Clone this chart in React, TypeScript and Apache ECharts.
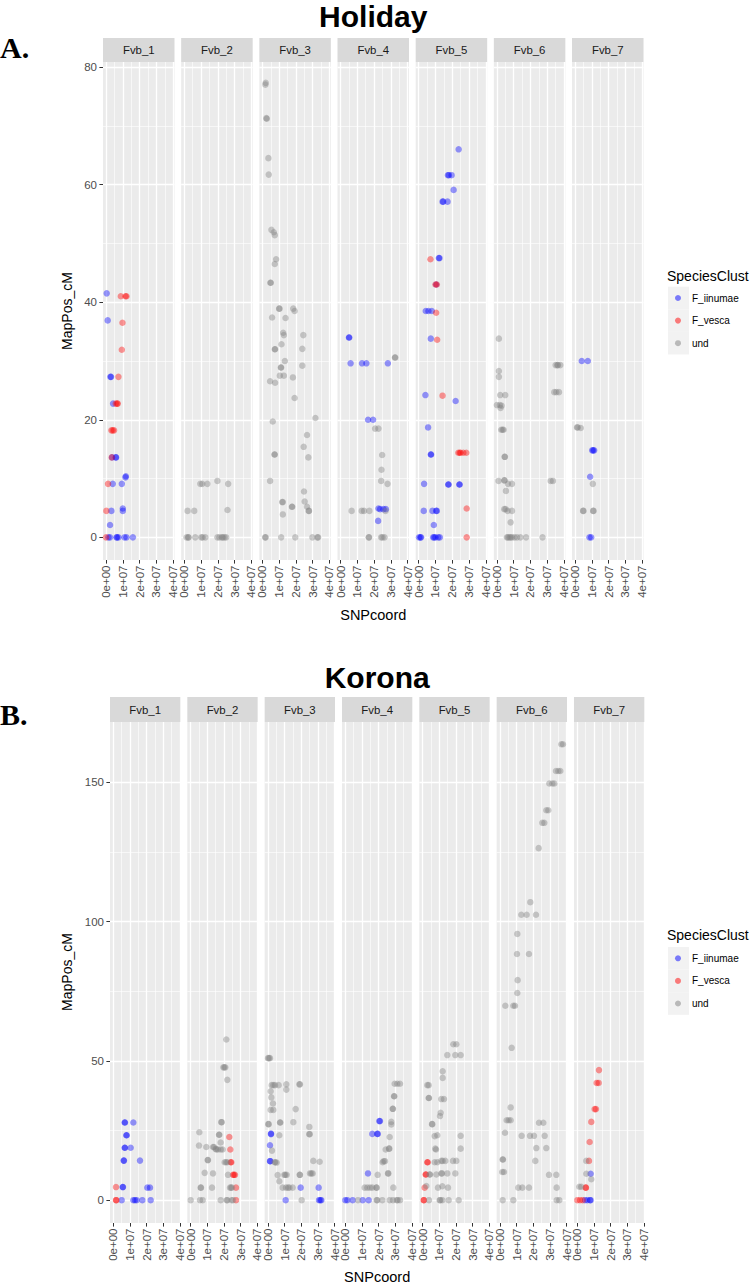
import React, { useEffect, useRef } from 'react';
import * as echarts from 'echarts';

type Sp = 'F_iinumae' | 'F_vesca' | 'und';
const FI: Sp = 'F_iinumae';
const FV: Sp = 'F_vesca';
const UND: Sp = 'und';
// [SNPcoord in Mb, MapPos_cM, SpeciesClust]
type Pt = [number, number, Sp];

const facetNames = ['Fvb_1', 'Fvb_2', 'Fvb_3', 'Fvb_4', 'Fvb_5', 'Fvb_6', 'Fvb_7'];
const speciesLevels: Sp[] = [FI, FV, UND];
const speciesColors = ['rgba(0,0,255,0.5)', 'rgba(255,0,0,0.5)', 'rgba(127,127,127,0.5)'];

// x axis in Mb (SNPcoord / 1e6)
const xTickValues = [0, 10, 20, 30, 40];
const xTickLabels = ['0e+00', '1e+07', '2e+07', '3e+07', '4e+07'];
const xMinorValues = [5, 15, 25, 35];
const holidayYTicks = [0, 20, 40, 60, 80];
const holidayYMinor = [10, 30, 50, 70];
const koronaYTicks = [0, 50, 100, 150];
const koronaYMinor = [25, 75, 125];

// ---------------- Holiday ----------------
const holidayFvb1: Pt[] = [
  [0.4, 41.5, FI], [8.8, 41.0, FV], [11.6, 41.0, FV], [12.2, 41.0, FV],
  [1.0, 36.9, FI], [9.8, 36.5, FV], [9.4, 31.9, FV],
  [2.6, 27.3, FI], [3.0, 27.3, FI], [7.4, 27.3, FV],
  [4.2, 22.75, FI], [5.8, 22.75, FV], [6.6, 22.75, FV], [7.0, 22.75, FV],
  [3.2, 18.2, FV], [4.0, 18.2, FV], [4.8, 18.2, FV],
  [3.4, 13.6, FV], [3.6, 13.6, FI], [5.8, 13.6, FI], [6.0, 13.6, FI],
  [11.6, 10.2, FI], [11.8, 10.4, FI],
  [1.2, 9.1, FV], [4.0, 9.1, FI], [9.4, 9.1, FI],
  [0.2, 4.5, FV], [3.2, 4.5, FI], [10.0, 4.9, FI], [10.0, 4.5, FI],
  [2.4, 2.1, FI],
  [0.0, 0, FV], [1.4, 0, FI], [2.4, 0, FI], [6.2, 0, FI], [6.6, 0, FI], [7.4, 0, FI],
  [11.0, 0, FI], [12.2, 0, FI], [16.0, 0, FI],
];
const holidayFvb2: Pt[] = [
  [1.4, 0, UND], [2.4, 0, UND], [2.6, 0, UND], [6.6, 0, UND], [10.2, 0, UND], [11.0, 0, UND],
  [12.6, 0, UND], [19.8, 0, UND], [21.0, 0, UND], [22.5, 0, UND], [23.0, 0, UND], [24.0, 0, UND], [25.0, 0, UND],
  [2.0, 4.5, UND], [6.0, 4.5, UND], [25.8, 4.65, UND],
  [9.6, 9.1, UND], [10.8, 9.1, UND], [13.8, 9.1, UND], [19.8, 9.6, UND], [26.2, 9.1, UND],
];
const holidayFvb3: Pt[] = [
  [1.8, 77.0, UND], [2.0, 77.3, UND], [2.4, 71.3, UND], [2.6, 71.2, UND],
  [3.6, 64.5, UND], [3.8, 61.7, UND],
  [5.4, 52.3, UND], [6.8, 51.9, UND], [7.4, 51.4, UND],
  [8.2, 47.3, UND], [7.4, 46.5, UND], [4.8, 43.3, UND], [5.0, 43.3, UND],
  [10.0, 38.9, UND], [10.2, 38.9, UND], [5.8, 37.4, UND], [13.8, 37.3, UND], [18.4, 38.9, UND], [19.2, 38.5, UND],
  [12.4, 34.8, UND], [12.8, 34.4, UND], [24.4, 34.4, UND],
  [7.4, 32.0, UND], [7.6, 32.0, UND], [11.4, 32.85, UND], [23.8, 32.06, UND],
  [13.4, 30.0, UND],
  [11.0, 28.9, UND], [11.2, 28.9, UND], [10.4, 27.5, UND], [12.8, 27.5, UND], [23.8, 29.2, UND], [18.2, 27.2, UND],
  [4.6, 26.55, UND], [7.6, 26.3, UND], [19.2, 23.7, UND],
  [6.2, 19.7, UND], [31.6, 20.3, UND],
  [26.6, 17.4, UND], [24.6, 15.4, UND], [27.4, 13.6, UND],
  [7.2, 14.1, UND], [7.4, 14.1, UND], [4.6, 9.6, UND], [24.8, 7.8, UND],
  [11.8, 6.0, UND], [12.2, 6.0, UND],
  [25.2, 6.1, UND], [26.6, 5.2, UND], [27.6, 4.5, UND], [27.8, 4.5, UND],
  [17.6, 5.2, UND], [17.8, 5.2, UND], [12.2, 3.9, UND],
  [1.6, 0, UND], [2.0, 0, UND], [11.2, 0, UND], [19.6, 0, UND], [29.8, 0, UND], [32.8, 0, UND], [33.2, 0, UND],
];
const holidayFvb4: Pt[] = [
  [5.0, 34.0, FI], [5.2, 34.0, FI],
  [6.0, 29.6, FI], [12.8, 29.6, FI], [15.4, 29.6, FI],
  [16.4, 20.0, FI], [19.4, 20.0, FI],
  [20.6, 18.5, UND], [22.6, 18.5, UND],
  [28.2, 29.6, FI], [32.4, 30.6, UND], [32.6, 30.6, UND],
  [24.8, 14.0, UND], [24.4, 11.5, UND], [24.2, 9.6, UND], [28.0, 9.1, UND],
  [6.6, 4.5, UND], [12.6, 4.5, UND], [14.0, 4.5, UND], [17.2, 4.5, UND],
  [22.6, 4.9, FI], [23.6, 4.8, FI], [25.6, 4.8, FI], [27.0, 4.8, FI], [26.8, 4.5, UND],
  [22.4, 2.8, FI],
  [16.8, 0, UND], [17.0, 0, UND], [24.2, 0, UND], [25.0, 0, UND], [26.2, 0, UND],
];
const holidayFvb5: Pt[] = [
  [23.8, 66.0, FI],
  [17.4, 61.6, FI], [18.0, 61.6, FI], [19.6, 61.6, FI],
  [20.8, 59.1, FI],
  [14.2, 57.1, FI], [14.6, 57.1, FI], [17.2, 57.1, FI],
  [7.0, 47.3, FV], [12.0, 47.5, FI], [12.4, 47.5, FI],
  [10.0, 43.0, FV], [10.4, 43.0, FI], [10.8, 43.0, FV],
  [4.2, 38.5, FI], [5.8, 38.5, FI], [7.8, 38.5, FI], [10.4, 38.2, FV],
  [7.2, 33.8, FI], [11.0, 33.6, FV],
  [4.0, 24.2, FI], [14.2, 24.1, FV], [22.0, 23.2, FI],
  [5.6, 18.7, FI],
  [7.2, 14.1, FI], [7.4, 14.1, FI],
  [23.6, 14.4, FV], [24.4, 14.4, FV], [25.0, 14.4, FV], [26.6, 14.4, FV], [28.4, 14.4, FV],
  [3.2, 9.1, FI], [17.6, 9.0, FI], [17.8, 9.0, FI], [24.2, 9.0, FI], [24.4, 9.0, FI],
  [3.0, 4.5, FI], [8.2, 4.5, FI], [10.4, 4.5, FI], [10.8, 4.5, FI],
  [28.6, 4.9, FV], [9.0, 2.1, FI],
  [0.2, 0, FI], [1.0, 0, FI], [1.4, 0, FI], [8.6, 0, FI], [9.2, 0, FI], [10.0, 0, FI], [11.6, 0, FI], [12.6, 0, FI],
  [28.6, 0, FV],
];
const holidayFvb6: Pt[] = [
  [1.2, 33.8, UND], [1.2, 28.3, UND], [1.2, 27.3, UND],
  [35.0, 29.3, UND], [36.0, 29.3, UND], [36.4, 29.3, UND], [37.8, 29.3, UND],
  [34.2, 24.7, UND], [35.4, 24.7, UND], [37.0, 24.7, UND],
  [2.0, 24.2, UND], [5.0, 24.2, UND],
  [0.0, 22.5, UND], [1.8, 22.5, UND], [2.8, 22.4, UND], [2.2, 22.0, UND],
  [2.6, 18.3, UND], [3.4, 18.3, UND], [4.0, 18.3, UND],
  [4.6, 13.7, UND], [4.8, 13.7, UND],
  [1.0, 9.6, UND], [4.4, 9.7, UND], [4.6, 9.7, UND], [6.6, 9.1, UND], [9.0, 9.1, UND],
  [5.4, 7.9, UND], [32.0, 9.6, UND], [33.4, 9.6, UND],
  [4.4, 4.8, UND], [5.2, 4.8, UND], [6.4, 4.5, UND], [9.0, 4.5, UND],
  [8.2, 2.55, UND],
  [6.0, 0, UND], [6.6, 0, UND], [7.5, 0, UND], [8.2, 0, UND], [9.0, 0, UND], [10.5, 0, UND],
  [12.0, 0, UND], [14.0, 0, UND], [17.4, 0, UND], [27.2, 0, UND],
];
const holidayFvb7: Pt[] = [
  [4.0, 30.0, FI], [7.6, 30.0, FI],
  [1.2, 18.7, UND], [1.6, 18.7, UND], [3.4, 18.6, UND],
  [10.2, 14.8, FI], [10.8, 14.8, FI], [11.4, 14.8, FI],
  [9.0, 10.3, FI], [10.6, 9.1, UND],
  [4.8, 4.5, UND], [5.0, 4.5, UND], [10.8, 4.5, UND], [11.0, 4.5, UND],
  [8.6, 0, FI], [9.6, 0, FI],
];

// ---------------- Korona ----------------
const koronaFvb1: Pt[] = [
  [6.8, 27.9, FI], [7.0, 27.9, FI], [12.0, 27.9, FI],
  [7.8, 23.3, FI], [8.0, 23.3, FI],
  [6.8, 18.8, FI], [7.0, 18.8, FI], [10.4, 18.8, FI],
  [6.2, 14.2, FI], [6.4, 14.2, FI], [16.0, 14.2, FI],
  [1.6, 4.7, FV], [5.6, 4.7, FI], [5.8, 4.7, FI], [20.4, 4.5, FI], [22.0, 4.5, FI],
  [1.6, 0, FV], [1.8, 0, FV], [5.0, 0, FI], [12.0, 0, FI], [13.0, 0, FI], [14.0, 0, FI], [17.4, 0, FI], [22.4, 0, FI],
];
const koronaFvb2: Pt[] = [
  [21.4, 57.7, UND], [19.6, 47.7, UND], [20.2, 47.7, UND], [20.8, 47.7, UND], [22.0, 43.2, UND],
  [18.4, 28.0, UND], [18.6, 28.0, UND], [5.2, 24.4, UND], [17.0, 23.5, UND], [17.2, 23.5, UND],
  [23.2, 22.7, FV], [18.0, 20.7, UND], [5.0, 19.6, UND], [9.4, 19.1, UND],
  [13.4, 19.1, UND], [14.0, 19.1, UND], [15.0, 18.4, UND], [15.4, 18.2, UND], [16.4, 18.2, UND],
  [18.0, 18.2, UND], [19.2, 18.2, UND], [23.8, 18.2, FV],
  [10.2, 14.4, UND], [10.4, 14.4, UND],
  [20.4, 13.6, UND], [21.2, 13.6, UND], [22.0, 13.6, UND], [24.0, 13.6, FV], [24.4, 13.6, FV],
  [8.4, 9.8, UND], [13.4, 9.6, UND], [22.4, 9.1, UND], [25.4, 9.1, FV], [26.0, 9.1, FV], [26.6, 9.1, FV],
  [6.0, 4.5, UND], [6.2, 4.5, UND], [12.8, 4.5, UND],
  [23.6, 4.5, UND], [24.2, 4.5, UND], [24.8, 4.5, UND], [27.2, 4.5, FV],
  [0.0, 0, UND], [5.6, 0, UND], [7.2, 0, UND], [18.0, 0, UND], [21.6, 0, UND], [22.0, 0, UND],
  [24.6, 0, UND], [25.4, 0, UND], [27.2, 0, FV],
];
const koronaFvb3: Pt[] = [
  [0.0, 51.0, UND], [0.6, 51.0, UND], [1.2, 51.0, UND],
  [2.2, 41.3, UND], [3.2, 41.3, UND], [4.2, 41.3, UND], [6.4, 41.3, UND],
  [1.6, 39.1, UND], [2.0, 36.9, UND], [3.0, 34.7, UND], [1.6, 32.4, UND], [3.2, 32.4, UND],
  [11.0, 41.6, UND], [11.0, 39.7, UND], [18.8, 41.6, UND], [19.2, 41.6, UND], [16.6, 32.7, UND],
  [0.2, 27.3, UND], [0.4, 27.3, UND], [7.2, 27.9, UND], [7.4, 27.9, UND], [15.2, 28.0, UND],
  [24.8, 26.3, UND], [24.8, 23.7, UND], [25.0, 23.7, UND],
  [1.8, 23.7, FI], [1.8, 23.9, FI], [6.8, 23.3, UND], [1.2, 19.7, FI], [2.4, 17.8, UND],
  [1.2, 14.0, FI], [1.4, 14.0, FI], [4.0, 13.6, UND], [4.4, 13.6, UND], [5.2, 13.5, UND],
  [27.2, 14.1, UND], [31.0, 13.8, UND],
  [5.8, 9.0, UND], [9.8, 9.1, UND], [10.4, 9.1, UND], [11.2, 9.1, UND], [6.8, 6.8, UND],
  [19.0, 9.1, UND], [19.2, 9.1, UND], [25.2, 9.6, UND], [26.0, 9.6, UND], [26.8, 9.6, UND],
  [8.8, 4.5, UND], [10.8, 4.5, UND], [12.0, 4.5, UND], [12.8, 4.5, UND], [14.8, 4.5, UND],
  [19.6, 4.5, FI], [30.4, 4.5, FI],
  [10.6, 0, FI], [20.2, 0, UND], [30.6, 0, FI], [31.4, 0, FI], [32.0, 0, FI],
];
const koronaFvb4: Pt[] = [
  [0.0, 0, FI], [1.2, 0, FI], [4.4, 0, FI], [7.6, 0, UND], [10.4, 0, FI], [14.0, 0, FI], [18.8, 0, UND],
  [19.2, 0, UND], [22.2, 0, UND], [26.6, 0, UND], [28.6, 0, UND], [30.8, 0, UND], [31.4, 0, UND], [32.8, 0, UND],
  [11.6, 4.5, UND], [13.2, 4.5, UND], [14.8, 4.5, UND], [16.2, 4.5, UND], [18.6, 4.5, UND], [18.8, 4.5, UND], [28.8, 4.5, UND],
  [13.6, 9.6, FI], [19.4, 9.1, UND], [25.6, 9.6, UND], [25.8, 9.6, UND],
  [16.2, 23.8, FI], [19.2, 23.8, FI], [19.4, 23.8, FI], [20.4, 28.4, FI], [20.8, 28.4, FI],
  [29.6, 41.8, UND], [31.2, 41.8, UND], [32.8, 41.8, UND], [29.2, 37.3, UND], [29.4, 37.3, UND],
  [28.4, 32.8, UND], [28.6, 32.8, UND], [27.6, 28.1, UND], [27.6, 27.2, UND], [26.6, 22.7, UND],
  [24.2, 18.2, UND], [26.2, 18.5, UND], [26.4, 18.5, UND],
  [22.4, 13.6, UND], [23.0, 14.0, UND], [23.8, 14.0, UND],
];
const koronaFvb5: Pt[] = [
  [18.4, 56.0, UND], [20.2, 56.0, UND], [14.8, 52.1, UND], [19.6, 52.1, UND], [22.8, 52.1, UND],
  [12.0, 46.3, UND], [12.0, 43.9, UND], [2.8, 41.3, UND], [3.6, 41.3, UND],
  [3.6, 36.7, UND], [3.8, 36.7, UND], [11.2, 36.3, UND], [12.8, 36.3, UND],
  [10.8, 31.4, UND], [10.4, 30.2, UND], [5.6, 27.3, UND], [5.8, 27.3, UND],
  [7.2, 23.0, UND], [8.8, 23.3, UND], [22.8, 23.1, UND],
  [7.6, 18.5, UND], [8.0, 18.2, UND], [22.8, 18.5, UND],
  [2.8, 13.6, FV], [3.0, 13.6, FV], [7.2, 13.6, UND], [8.8, 13.6, UND], [11.2, 14.1, UND],
  [12.0, 14.1, UND], [13.6, 14.1, UND], [18.2, 14.1, UND], [20.2, 14.1, UND],
  [1.8, 9.2, FV], [2.0, 9.2, FV], [4.2, 9.2, UND], [4.4, 9.2, UND], [8.2, 9.2, UND],
  [11.2, 9.6, UND], [11.6, 9.6, UND], [14.8, 9.6, UND], [19.6, 9.6, UND],
  [1.2, 4.5, FV], [2.2, 5.1, UND], [9.2, 4.5, UND], [11.8, 5.0, UND], [15.2, 4.5, UND],
  [0.6, 0, FV], [0.8, 0, FV], [3.8, 0, UND], [10.2, 0, UND], [10.6, 0, UND], [11.8, 0, UND],
  [15.6, 0, UND], [21.6, 0, UND],
];
const koronaFvb6: Pt[] = [
  [36.8, 163.7, UND], [37.8, 163.7, UND],
  [33.6, 154.1, UND], [35.0, 154.1, UND], [36.2, 154.1, UND],
  [29.6, 149.6, UND], [31.4, 149.6, UND], [32.6, 149.6, UND],
  [27.8, 140.0, UND], [29.0, 140.0, UND], [25.4, 135.5, UND], [26.6, 135.5, UND],
  [23.2, 126.4, UND], [18.2, 107.0, UND],
  [12.8, 102.5, UND], [16.0, 102.5, UND], [21.6, 102.5, UND],
  [10.4, 95.6, UND], [10.2, 88.4, UND], [17.4, 88.4, UND], [10.6, 79.0, UND], [10.4, 74.4, UND],
  [3.2, 69.8, UND], [8.0, 69.8, UND], [9.0, 69.8, UND], [7.0, 54.7, UND], [6.4, 33.3, UND],
  [4.0, 28.7, UND], [5.2, 28.7, UND], [6.4, 28.7, UND], [3.0, 24.2, UND],
  [13.0, 23.1, UND], [18.0, 23.1, UND], [20.4, 23.1, UND], [26.8, 23.1, UND],
  [23.4, 27.8, UND], [26.0, 27.8, UND], [21.8, 18.7, UND], [27.8, 18.7, UND], [21.2, 14.1, UND],
  [1.6, 14.6, UND], [1.8, 14.6, UND], [1.4, 10.1, UND], [2.4, 10.1, UND],
  [29.4, 9.1, UND], [33.8, 9.1, UND],
  [11.0, 4.5, UND], [13.4, 4.5, UND], [17.4, 4.5, UND], [34.0, 4.5, UND],
  [1.6, 0, UND], [8.0, 0, UND], [34.0, 0, UND], [35.6, 0, UND],
];
const koronaFvb7: Pt[] = [
  [13.0, 46.7, FV], [11.6, 42.1, FV], [12.8, 42.1, FV],
  [10.4, 32.7, FV], [11.2, 32.7, FV], [8.4, 28.1, FV], [7.4, 20.9, FV],
  [5.4, 14.1, UND], [7.0, 14.1, FV],
  [5.4, 9.5, UND], [8.0, 9.5, FI], [8.4, 7.5, UND],
  [1.2, 4.8, UND], [2.4, 4.8, UND], [5.0, 4.5, FV], [5.2, 4.5, FV],
  [0.0, 0, FV], [1.6, 0, FV], [3.2, 0, FV], [4.6, 0, FI], [6.0, 0, FI], [7.6, 0, FI], [8.0, 0, FI],
];

const holidayFacets = [holidayFvb1, holidayFvb2, holidayFvb3, holidayFvb4, holidayFvb5, holidayFvb6, holidayFvb7];
const koronaFacets = [koronaFvb1, koronaFvb2, koronaFvb3, koronaFvb4, koronaFvb5, koronaFvb6, koronaFvb7];

const FONT = '"Liberation Sans", Arial, Helvetica, sans-serif';
const SERIF = '"Liberation Serif", "Times New Roman", serif';

const panels = [
  {
    title: 'Holiday', tag: 'A.', facets: holidayFacets, yTicks: holidayYTicks, yMinor: holidayYMinor,
    yMin: -3.85, yMax: 80.85, xMin: -1.8, xMax: 40.8,
    left: 103, step: 78.17, width: 71.5, top: 62, height: 498, stripTop: 38, stripH: 24,
    titleY: 16, tagY: 47, yTitleY: 311, xTitleY: 615, legendTitleY: 276, legendKeyY: 298,
  },
  {
    title: 'Korona', tag: 'B.', facets: koronaFacets, yTicks: koronaYTicks, yMinor: koronaYMinor,
    yMin: -8.2, yMax: 171.7, xMin: -2.0, xMax: 40.2,
    left: 110, step: 77.33, width: 70.33, top: 722, height: 501, stripTop: 697, stripH: 25,
    titleY: 677, tagY: 714, yTitleY: 972, xTitleY: 1277, legendTitleY: 935, legendKeyY: 958.3,
  },
];

export default function App() {
  const ref = useRef<HTMLDivElement>(null);
  useEffect(() => {
    if (!ref.current) return;
    const chart = echarts.init(ref.current, undefined, { renderer: 'svg' });
    const grids: any[] = [];
    const xAxes: any[] = [];
    const yAxes: any[] = [];
    const minorX: any[] = [];
    const minorY: any[] = [];
    const series: any[] = [];
    const graphics: any[] = [];
    const tickStyle = { color: '#333333', width: 1 };

    panels.forEach((p, pi) => {
      const right = p.left + 6 * p.step + p.width;
      const cx = (p.left + right) / 2;
      graphics.push({
        type: 'text', x: cx, y: p.titleY,
        style: { text: p.title, fontSize: 30, fontWeight: 'bold', fontFamily: FONT, fill: '#000', align: 'center', verticalAlign: 'middle' },
      });
      graphics.push({
        type: 'text', x: 0, y: p.tagY,
        style: { text: p.tag, fontSize: 30, fontWeight: 'bold', fontFamily: SERIF, fill: '#000', align: 'left', verticalAlign: 'middle' },
      });
      graphics.push({
        type: 'text', x: 67, y: p.yTitleY, rotation: Math.PI / 2,
        style: { text: 'MapPos_cM', fontSize: 14, fontFamily: FONT, fill: '#000', align: 'center', verticalAlign: 'middle' },
      });
      graphics.push({
        type: 'text', x: cx, y: p.xTitleY,
        style: { text: 'SNPcoord', fontSize: 14.5, fontFamily: FONT, fill: '#000', align: 'center', verticalAlign: 'middle' },
      });
      // legend
      graphics.push({
        type: 'text', x: 667, y: p.legendTitleY,
        style: { text: 'SpeciesClust', fontSize: 14, fontFamily: FONT, fill: '#000', align: 'left', verticalAlign: 'middle' },
      });
      speciesLevels.forEach((sp, si) => {
        const ky = p.legendKeyY + si * 22.6;
        graphics.push({ type: 'rect', shape: { x: 668, y: ky - 11.3, width: 21, height: 22.6 }, style: { fill: '#F2F2F2' } });
        graphics.push({ type: 'circle', shape: { cx: 678, cy: ky, r: 3 }, style: { fill: speciesColors[si] } });
        graphics.push({
          type: 'text', x: 692, y: ky,
          style: { text: sp, fontSize: 10, fontFamily: FONT, fill: '#000', align: 'left', verticalAlign: 'middle' },
        });
      });

      p.facets.forEach((facet, f) => {
        const g = pi * 7 + f;
        const left = p.left + f * p.step;
        grids.push({
          left, top: p.top, width: p.width, height: p.height,
          show: true, backgroundColor: '#EBEBEB', borderWidth: 0, containLabel: false,
        });
        graphics.push({
          type: 'rect', shape: { x: left, y: p.stripTop, width: p.width, height: p.stripH },
          style: { fill: '#D9D9D9' },
        });
        graphics.push({
          type: 'text', x: left + p.width / 2, y: p.stripTop + p.stripH / 2,
          style: { text: facetNames[f], fontSize: 11.4, fontFamily: FONT, fill: '#1A1A1A', align: 'center', verticalAlign: 'middle' },
        });
        xAxes.push({
          type: 'value', gridIndex: g, position: 'bottom', min: p.xMin, max: p.xMax,
          axisLine: { show: false, onZero: false },
          axisTick: { show: true, customValues: xTickValues, length: 3.6, lineStyle: tickStyle },
          axisLabel: {
            show: true, customValues: xTickValues, rotate: 90, margin: 5.5,
            fontSize: 11.5, fontFamily: FONT, color: '#4D4D4D',
            formatter: (v: number) => {
              const i = xTickValues.indexOf(Math.round(v));
              return i >= 0 ? xTickLabels[i] : '';
            },
          },
          splitLine: { show: true, lineStyle: { color: '#FFFFFF', width: 1.3 } },
        });
        minorX.push({
          type: 'value', gridIndex: g, position: 'top', min: p.xMin, max: p.xMax,
          axisLine: { show: false, onZero: false },
          axisTick: { show: false, customValues: xMinorValues },
          axisLabel: { show: false, customValues: xMinorValues },
          splitLine: { show: true, lineStyle: { color: '#FFFFFF', width: 0.6 } },
        });
        yAxes.push({
          type: 'value', gridIndex: g, position: 'left', min: p.yMin, max: p.yMax,
          axisLine: { show: false, onZero: false },
          axisTick: { show: f === 0, customValues: p.yTicks, length: 3.6, lineStyle: tickStyle },
          axisLabel: {
            show: f === 0, customValues: p.yTicks, margin: 6,
            fontSize: 11.5, fontFamily: FONT, color: '#4D4D4D',
          },
          splitLine: { show: true, lineStyle: { color: '#FFFFFF', width: 1.3 } },
        });
        minorY.push({
          type: 'value', gridIndex: g, position: 'right', min: p.yMin, max: p.yMax,
          axisLine: { show: false, onZero: false },
          axisTick: { show: false, customValues: p.yMinor },
          axisLabel: { show: false, customValues: p.yMinor },
          splitLine: { show: true, lineStyle: { color: '#FFFFFF', width: 0.6 } },
        });
        speciesLevels.forEach((sp, si) => {
          series.push({
            type: 'scatter', name: sp, xAxisIndex: g, yAxisIndex: g,
            symbol: 'circle', symbolSize: 6.5, silent: true,
            itemStyle: { color: speciesColors[si], borderWidth: 0 },
            data: facet.filter((d) => d[2] === sp).map((d) => [d[0], d[1]]),
          });
        });
      });
    });

    chart.setOption({
      animation: false,
      backgroundColor: '#FFFFFF',
      grid: grids,
      xAxis: [...xAxes, ...minorX],
      yAxis: [...yAxes, ...minorY],
      series,
      graphic: { elements: graphics },
    });
    return () => chart.dispose();
  }, []);
  return (
    <div
      ref={ref}
      style={{ position: 'absolute', left: 0, top: 0, width: 753, height: 1285 }}
    />
  );
}
